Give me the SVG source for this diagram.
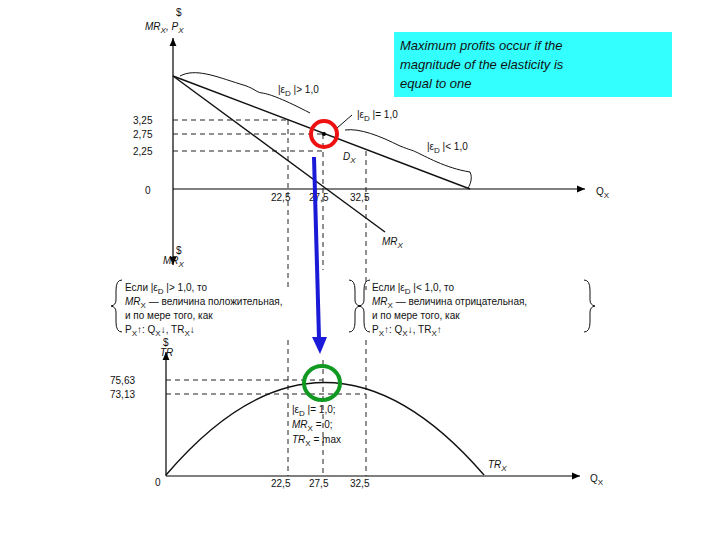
<svg xmlns="http://www.w3.org/2000/svg" width="720" height="540" viewBox="0 0 720 540">
<defs>
<marker id="ah" markerWidth="8" markerHeight="8" refX="7" refY="4" orient="auto"><path d="M0,1 L7,4 L0,7 Z" fill="#000"/></marker>
</defs>
<style>
text{font-family:"Liberation Sans",Arial,sans-serif;fill:#111}
.t{font-size:10px}
.i{font-style:italic}
.ax{stroke:#000;stroke-width:1.2;fill:none}
.ln{stroke:#111;stroke-width:1.4;fill:none}
.d{stroke:#222;stroke-width:1;stroke-dasharray:5,4;fill:none}
.b{stroke:#111;stroke-width:1;fill:none}
</style>
<rect width="720" height="540" fill="#fff"/>
<g id="top-chart">
<line class="ax" x1="173" y1="188" x2="173" y2="38" marker-end="url(#ah)"/>
<line class="ax" x1="173" y1="188" x2="173" y2="265" marker-end="url(#ah)"/>
<line class="ax" x1="173" y1="189" x2="585" y2="189" marker-end="url(#ah)"/>
<text class="t" x="176" y="16">$</text>
<text class="t i" x="145" y="30">MR<tspan font-size="8" dy="3">X</tspan><tspan dy="-3">, P</tspan><tspan font-size="8" dy="3">X</tspan></text>
<text class="t" x="176" y="254">$</text>
<text class="t i" x="163" y="264">MR<tspan font-size="8" dy="3">X</tspan></text>
<text class="t" x="596" y="195">Q<tspan font-size="8" dy="3">X</tspan></text>
<text class="t" x="145" y="194">0</text>
<text class="t" x="133" y="124">3,25</text>
<text class="t" x="133" y="138">2,75</text>
<text class="t" x="133" y="155">2,25</text>
<text class="t" x="271" y="201">22,5</text>
<text class="t" x="309" y="201">27,5</text>
<text class="t" x="350" y="201">32,5</text>
<line class="d" x1="173" y1="120" x2="290" y2="120"/>
<line class="d" x1="173" y1="134" x2="323" y2="134"/>
<line class="d" x1="173" y1="151" x2="323" y2="151"/>
<line class="d" x1="288" y1="120" x2="288" y2="290"/>
<line class="d" x1="323" y1="134" x2="323" y2="270"/>
<line class="d" x1="366" y1="151" x2="366" y2="290"/>
<line class="ln" x1="173" y1="76" x2="470" y2="189"/>
<line class="ln" x1="173" y1="76" x2="385" y2="232"/>
<text class="t i" x="382" y="245">MR<tspan font-size="8" dy="3">X</tspan></text>
<text class="t i" x="343" y="160">D<tspan font-size="8" dy="3">X</tspan></text>
<path class="b" d="M180,76 C195,68 215,76 240,84 C255,88 255,92 262,93 C270,94 285,100 310,113"/>
<path class="b" d="M345,130 C360,128 380,136 400,146 C410,150 412,150 416,152 C425,156 445,168 470,172 C473,178 470,185 468,188"/>
<text class="t" x="278" y="93">|ε<tspan font-size="8" dy="3">D</tspan><tspan dy="-3"> |&gt; 1,0</tspan></text>
<text class="t" x="357" y="118">|ε<tspan font-size="8" dy="3">D</tspan><tspan dy="-3"> |= 1,0</tspan></text>
<line class="b" x1="337" y1="128" x2="352" y2="115"/>
<text class="t" x="427" y="150">|ε<tspan font-size="8" dy="3">D</tspan><tspan dy="-3"> |&lt; 1,0</tspan></text>
<circle cx="324" cy="134" r="2" fill="#000"/>
</g>
<g id="info-box">
<rect x="394" y="32" width="278" height="65" fill="#00ffff" opacity="0.8"/>
<text x="400" y="50" font-size="13" font-style="italic">Maximum profits occur if the</text>
<text x="400" y="69" font-size="13" font-style="italic">magnitude of the elasticity is</text>
<text x="400" y="88" font-size="13" font-style="italic">equal to one</text>
</g>
<g id="notes">
<path class="b" d="M122,280 Q116,280 116,290 L116,300 Q116,305 111,306 Q116,307 116,312 L116,322 Q116,332 122,332"/>
<text class="t" x="125" y="291">Если  |ε<tspan font-size="8" dy="3">D</tspan><tspan dy="-3"> |&gt; 1,0, то</tspan></text>
<text class="t" x="125" y="305"><tspan font-style="italic">MR</tspan><tspan font-size="8" dy="3">X</tspan><tspan dy="-3"> — величина положительная,</tspan></text>
<text class="t" x="125" y="319">и по мере того, как</text>
<text class="t" x="125" y="333">P<tspan font-size="8" dy="3">X</tspan><tspan dy="-3">↑: Q</tspan><tspan font-size="8" dy="3">X</tspan><tspan dy="-3">↓, TR</tspan><tspan font-size="8" dy="3">X</tspan><tspan dy="-3">↓</tspan></text>
<path class="b" d="M349,280 Q355,280 355,290 L355,300 Q355,305 360,306 Q355,307 355,312 L355,322 Q355,332 349,332"/>
<path class="b" d="M370,280 Q364,280 364,290 L364,300 Q364,305 359,306 Q364,307 364,312 L364,322 Q364,332 370,332"/>
<text class="t" x="372" y="291">Если  |ε<tspan font-size="8" dy="3">D</tspan><tspan dy="-3"> |&lt; 1,0, то</tspan></text>
<text class="t" x="372" y="305"><tspan font-style="italic">MR</tspan><tspan font-size="8" dy="3">X</tspan><tspan dy="-3"> — величина отрицательная,</tspan></text>
<text class="t" x="372" y="319">и по мере того, как</text>
<text class="t" x="372" y="333">P<tspan font-size="8" dy="3">X</tspan><tspan dy="-3">↑: Q</tspan><tspan font-size="8" dy="3">X</tspan><tspan dy="-3">↓, TR</tspan><tspan font-size="8" dy="3">X</tspan><tspan dy="-3">↑</tspan></text>
<path class="b" d="M584,280 Q590,280 590,290 L590,300 Q590,305 595,306 Q590,307 590,312 L590,322 Q590,332 584,332"/>
</g>
<g id="bottom-chart">
<line class="ax" x1="166" y1="476" x2="166" y2="352" marker-end="url(#ah)"/>
<line class="ax" x1="166" y1="476" x2="580" y2="476" marker-end="url(#ah)"/>
<text class="t" x="163" y="346">$</text>
<text class="t i" x="160" y="356">TR</text>
<text class="t" x="590" y="482">Q<tspan font-size="8" dy="3">X</tspan></text>
<text class="t" x="155" y="486">0</text>
<text class="t" x="110" y="384">75,63</text>
<text class="t" x="110" y="398">73,13</text>
<text class="t" x="271" y="487">22,5</text>
<text class="t" x="309" y="487">27,5</text>
<text class="t" x="350" y="487">32,5</text>
<line class="d" x1="166" y1="380" x2="323" y2="380"/>
<line class="d" x1="166" y1="394" x2="366" y2="394"/>
<line class="d" x1="288" y1="340" x2="288" y2="476"/>
<line class="d" x1="323" y1="360" x2="323" y2="476"/>
<line class="d" x1="366" y1="340" x2="366" y2="476"/>
<path class="ln" d="M166,475 Q324,290 484,475"/>
<text class="t i" x="488" y="468">TR<tspan font-size="8" dy="3">X</tspan></text>
<text class="t" x="292" y="413">|ε<tspan font-size="8" dy="3">D</tspan><tspan dy="-3"> |= 1,0;</tspan></text>
<text class="t" x="292" y="428"><tspan font-style="italic">MR</tspan><tspan font-size="8" dy="3">X</tspan><tspan dy="-3"> = 0;</tspan></text>
<text class="t" x="292" y="443"><tspan font-style="italic">TR</tspan><tspan font-size="8" dy="3">X</tspan><tspan dy="-3"> = max</tspan></text>
</g>
<g id="highlights">
<circle cx="324" cy="134" r="13" fill="none" stroke="#ee1111" stroke-width="4"/>
<ellipse cx="322" cy="383" rx="18" ry="17" fill="none" stroke="#119922" stroke-width="4"/>
</g>
<g id="connectors">
<line x1="314" y1="157" x2="319" y2="338" stroke="#1a1ad8" stroke-width="4"/>
<path d="M312,337 L327,337 L320,354 Z" fill="#1a1ad8"/>
</g>
</svg>
